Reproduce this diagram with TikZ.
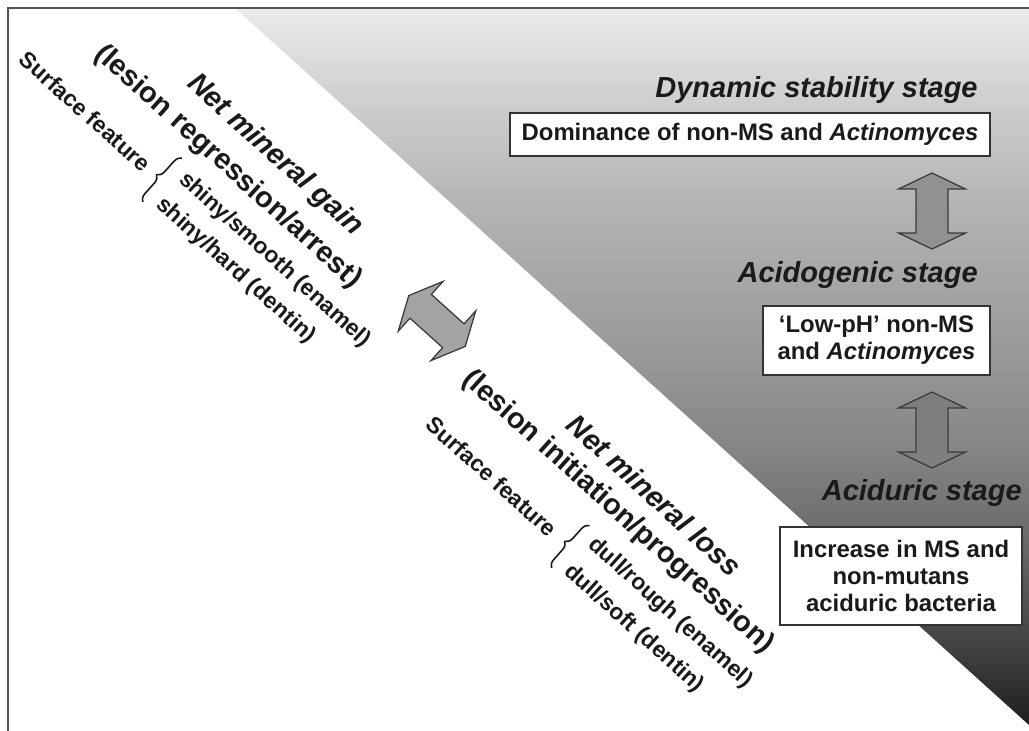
\documentclass[tikz,border=0pt]{standalone}
\usepackage{fontspec}
\setmainfont{Liberation Sans}
\usetikzlibrary{decorations.pathreplacing}
\definecolor{sA}{HTML}{1E1E1E}
\definecolor{sB}{HTML}{404040}
\definecolor{sC}{HTML}{666666}
\definecolor{sD}{HTML}{858585}
\definecolor{sE}{HTML}{999999}
\definecolor{sF}{HTML}{B5B5B5}
\definecolor{sG}{HTML}{CFCFCF}
\definecolor{sH}{HTML}{EBEBEB}
\definecolor{txt}{HTML}{1A1A1A}
\definecolor{boxline}{HTML}{333333}
\definecolor{framecol}{HTML}{555555}
\definecolor{arrline}{HTML}{3A3A3A}
\pgfdeclareverticalshading{bgshade}{100bp}{color(0bp)=(sA); color(25bp)=(sA); color(30.23bp)=(sB); color(37.2bp)=(sC); color(44.18bp)=(sD); color(51.15bp)=(sE); color(61.6bp)=(sF); color(68.6bp)=(sG); color(75bp)=(sH); color(100bp)=(sH)}
\tikzset{
  stagehead/.style={font=\fontsize{16.5}{19}\selectfont\bfseries\itshape, text=txt, inner sep=0pt},
  stagebox/.style={draw=boxline, line width=0.85pt, fill=white, inner sep=0pt, align=center, font=\fontsize{13.6}{15.4}\selectfont\bfseries, text=txt},
  bigbi/.style={font=\fontsize{16.5}{19}\selectfont\bfseries\itshape, text=txt, inner sep=0pt, rotate=-42},
  bigb/.style={font=\fontsize{16.5}{19}\selectfont\bfseries, text=txt, inner sep=0pt, rotate=-42},
  subt/.style={font=\fontsize{13}{15}\selectfont\bfseries, text=txt, inner sep=0pt, rotate=-42},
  bracestyle/.style={decorate, decoration={brace, amplitude=4.5pt}, line width=0.9pt, txt},
  dblarrow/.pic={\draw[pic actions] (38,0) -- (22,33.5) -- (22,16) -- (-22,16) -- (-22,33.5) -- (-38,0) -- (-22,-33.5) -- (-22,-16) -- (22,-16) -- (22,-33.5) -- cycle;},
  arrowshape/.style={draw=arrline, line width=0.7pt, line join=miter}
}
\begin{document}
\begin{tikzpicture}[x=0.02cm, y=-0.02cm]
\useasboundingbox (0,0) rectangle (1029,731);
\fill[white] (0,0) rectangle (1029,731);
\shade[shading=bgshade] (235,8) -- (1029,8) -- (1029,725) -- cycle;
\draw[framecol, line width=0.8pt] (8,731) -- (8,8) -- (1029,8);

% right-hand stages
\node[stagehead, anchor=base east] (hdyn) at (978,97) {Dynamic stability stage};
\node[stagebox, minimum width=480*0.02cm, minimum height=43*0.02cm] (bdyn) at (750,134.5) {Dominance of non-MS and \textit{Actinomyces}};
\pic[arrowshape, fill=sE!95!black, rotate=90] at (932,211) {dblarrow};
\node[stagehead, anchor=base east] (hacg) at (978,282) {Acidogenic stage};
\node[stagebox, minimum width=227*0.02cm, minimum height=69*0.02cm] (bacg) at (876.5,340.5) {‘Low-pH’ non-MS\\and \textit{Actinomyces}};
\pic[arrowshape, fill=sD!95!black, rotate=90] at (932,430) {dblarrow};
\node[stagehead, anchor=base east] (hacu) at (1022,500) {Aciduric stage};
\node[stagebox, minimum width=242*0.02cm, minimum height=98*0.02cm] (bacu) at (901,576) {Increase in MS and\\non-mutans\\aciduric bacteria};

% gain / loss arrow
\pic[arrowshape, fill=sF!90!black, rotate=-42] at (437,321) {dblarrow};

% gain block
\begin{scope}[shift={(228,167)}, x={(0.014863cm,-0.013383cm)}, y={(0.013383cm,0.014863cm)}]
  \node[bigbi] (gainA) at (27,40) {Net mineral gain};
  \node[bigb] (gainB) at (0,0) {(lesion regression/arrest)};
  \node[subt, anchor=east] (gainS) at (-60,-54) {Surface feature};
  \draw[bracestyle] (-40,-83) -- (-40,-24);
  \node[subt, anchor=west] (gain1) at (-28,-38) {shiny/smooth (enamel)};
  \node[subt, anchor=west] (gain2) at (-28,-72) {shiny/hard (dentin)};
\end{scope}

% loss block
\begin{scope}[shift={(618,512)}, x={(0.014863cm,-0.013383cm)}, y={(0.013383cm,0.014863cm)}]
  \node[bigbi] (lossA) at (16,37) {Net mineral loss};
  \node[bigb] (lossB) at (0,0) {(lesion initiation/progression)};
  \node[subt, anchor=east] (lossS) at (-34,-58) {Surface feature};
  \draw[bracestyle] (-12,-86) -- (-12,-29);
  \node[subt, anchor=west] (loss1) at (0,-40) {dull/rough (enamel)};
  \node[subt, anchor=west] (loss2) at (0,-76) {dull/soft (dentin)};
\end{scope}
\end{tikzpicture}
\end{document}
